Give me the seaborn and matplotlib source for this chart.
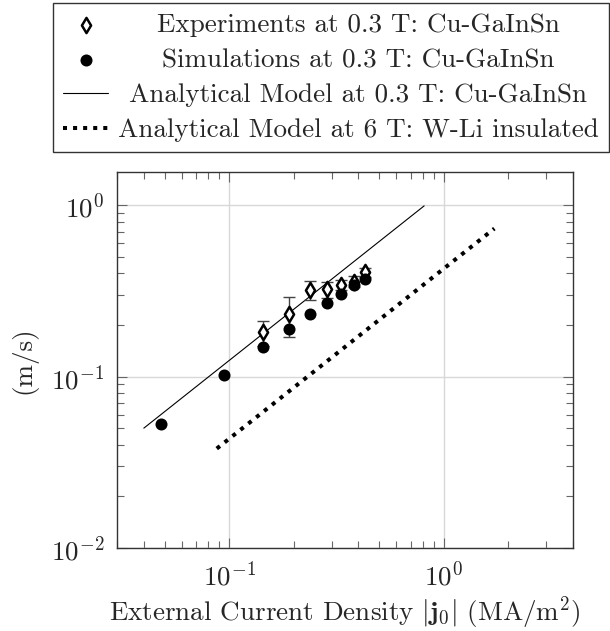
import matplotlib
matplotlib.use('Agg')
import matplotlib.pyplot as plt
import seaborn as sns
from matplotlib.ticker import LogLocator, FuncFormatter, NullFormatter
import numpy as np

# Simulations at 0.3 T (current density in MA/m^2, velocity in m/s)
sim_j = [0.048, 0.095, 0.143, 0.190, 0.238, 0.286, 0.333, 0.381, 0.429]
sim_v = [0.053, 0.102, 0.148, 0.190, 0.231, 0.270, 0.305, 0.340, 0.372]

# Experiments at 0.3 T with error bars
exp_j = [0.143, 0.190, 0.238, 0.286, 0.333, 0.381, 0.429]
exp_v = [0.181, 0.231, 0.320, 0.322, 0.343, 0.358, 0.405]
exp_err = [0.030, 0.060, 0.040, 0.036, 0.024, 0.026, 0.023]

# Analytical models (end points of the straight lines in log-log)
model_j = [0.04, 0.81]
model_v = [0.05, 0.99]
wli_j = [0.0875, 1.72]
wli_v = [0.038, 0.73]

labels = ['Experiments at 0.3 T: Cu-GaInSn',
          'Simulations at 0.3 T: Cu-GaInSn',
          'Analytical Model at 0.3 T: Cu-GaInSn',
          'Analytical Model at 6 T: W-Li insulated']

sns.set_style('ticks')
plt.rcParams['font.family'] = 'cmr10'
plt.rcParams['mathtext.fontset'] = 'cm'
plt.rcParams['axes.formatter.use_mathtext'] = True
plt.rcParams['axes.unicode_minus'] = False

fs = 19.5

fig = plt.figure(figsize=(6.1, 6.31), dpi=100)
ax = fig.add_axes([117 / 610, 83 / 631, 456 / 610, 376 / 631])
ax.set_xscale('log')
ax.set_yscale('log')

ax.errorbar(exp_j, exp_v, yerr=exp_err, fmt='none', ecolor='#444444',
            elinewidth=1, capsize=4, capthick=1, zorder=3)
sns.scatterplot(x=exp_j, y=exp_v, marker='d', s=60, facecolor='white',
                edgecolor='black', linewidth=1.8, ax=ax, zorder=4, label=labels[0])
sns.scatterplot(x=sim_j, y=sim_v, marker='o', s=75, color='black',
                linewidth=0, ax=ax, zorder=5, label=labels[1])
sns.lineplot(x=model_j, y=model_v, color='black', linewidth=0.8,
             ax=ax, zorder=2, label=labels[2], sort=False)
sns.lineplot(x=wli_j, y=wli_v, color='black', linewidth=2.9,
             linestyle=(0, (1, 1.5)), ax=ax, zorder=2, label=labels[3], sort=False)

ax.set_xlim(0.03, 4)
ax.set_ylim(0.01, 1.56)

# pgfplots-like axes
ax.xaxis.set_major_locator(LogLocator(base=10, numticks=10))
ax.yaxis.set_major_locator(LogLocator(base=10, numticks=10))
ax.xaxis.set_minor_locator(LogLocator(base=10, subs=np.arange(2, 10), numticks=20))
ax.yaxis.set_minor_locator(LogLocator(base=10, subs=np.arange(2, 10), numticks=20))
fmt = FuncFormatter(lambda v, p: r'$10^{%d}$' % round(np.log10(v)))
ax.xaxis.set_major_formatter(fmt)
ax.yaxis.set_major_formatter(fmt)
ax.xaxis.set_minor_formatter(NullFormatter())
ax.yaxis.set_minor_formatter(NullFormatter())
ax.tick_params(which='both', direction='in', top=True, right=True,
               color='#666666', labelsize=fs)
ax.tick_params(which='major', length=7, width=0.8, pad=9)
ax.tick_params(which='minor', length=5, width=0.8)
ax.grid(True, which='major', color='#d8d8d8', linewidth=1)
for s in ax.spines.values():
    s.set_color('#333333')
    s.set_linewidth(1)

ax.set_xlabel(r'External Current Density $|\mathbf{j}_0|$ (MA/m$^2$)', fontsize=fs, labelpad=3)
ax.set_ylabel('(m/s)', fontsize=fs, labelpad=10)

handles, labs = ax.get_legend_handles_labels()
ax.get_legend().remove()
order = [labs.index(l) for l in labels]
leg = fig.legend([handles[i] for i in order], labels, loc='upper center',
                 bbox_to_anchor=(331 / 610, 0.995), fontsize=fs, frameon=True,
                 fancybox=False, edgecolor='#333333', framealpha=1,
                 handlelength=1.63, handletextpad=0.37, labelspacing=0.41,
                 borderpad=0.37, borderaxespad=0)
leg.get_frame().set_linewidth(1)

# centre the legend texts in their column, like the pgfplots legend
fig.canvas.draw()
r = fig.canvas.get_renderer()
texts = leg.get_texts()
widths = [t.get_window_extent(r).width for t in texts]
for t, w in zip(texts, widths):
    t.set_x((max(widths) - w) / 2)

fig.savefig('out.png', dpi=100)
